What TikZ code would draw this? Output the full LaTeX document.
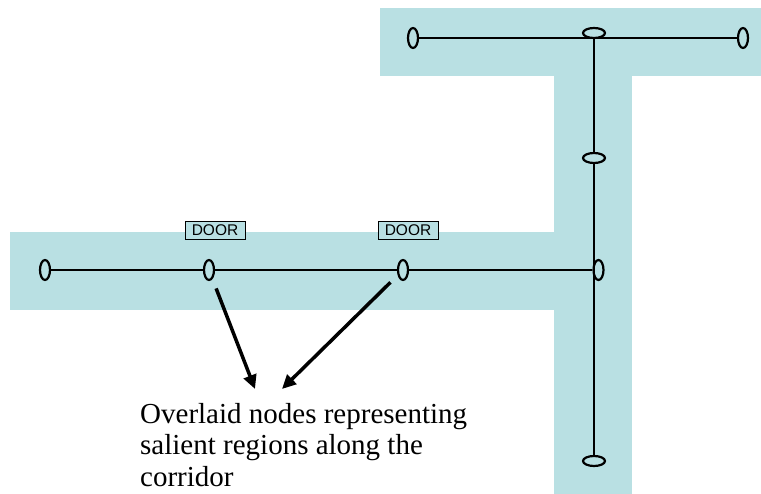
\documentclass[tikz,border=0pt]{standalone}
\usepackage{fontspec}
\setmainfont{Liberation Serif}
\newfontfamily\doorfont{Liberation Sans}
\usetikzlibrary{shapes.geometric,arrows.meta}
\definecolor{hall}{RGB}{185,224,227}
\begin{document}
\begin{tikzpicture}[x=1pt,y=-1pt,
    vnode/.style={draw,ellipse,line width=2.2pt,minimum width=10pt,minimum height=20pt,inner sep=0pt},
    hnode/.style={draw,ellipse,line width=2.2pt,minimum width=22pt,minimum height=10pt,inner sep=0pt},
    doorbox/.style={draw,line width=0.8pt,fill=hall,font=\doorfont\fontsize{15.5}{15.5}\selectfont,inner sep=0pt,minimum width=60pt,minimum height=18pt},
    edge/.style={line width=2pt},
    pointer/.style={line width=3.5pt,-{Triangle[length=14pt,width=13pt]}}]
    \useasboundingbox (0,0) rectangle (761,494);
    % corridors
    \fill [hall] (380,8) rectangle (761,76);
    \fill [hall] (554,75) rectangle (632,494);
    \fill [hall] (10,232) rectangle (555,310);

    % doors
    \node [doorbox] (door1) at (215,230) {DOOR};
    \node [doorbox] (door2) at (408,230) {DOOR};

    % nodes
    \node [vnode] (n1) at (45,270) {};
    \node [vnode] (n2) at (209,270) {};
    \node [vnode] (n3) at (403,270) {};
    \node [vnode] (n4) at (598.5,270) {};
    \node [hnode] (top) at (594,33) {};
    \node [hnode] (mid) at (594,158) {};
    \node [hnode] (bot) at (594,461) {};
    \node [vnode] (tl) at (413,38) {};
    \node [vnode] (tr) at (743,38) {};

    % edges
    \draw [edge] (n1) -- (n2) -- (n3) -- (n4);
    \draw [edge] (top) -- (mid) -- (bot);
    \draw [edge] (tl) -- (tr);

    % pointers to the text
    \coordinate (tipL) at (255,389);
    \coordinate (tipR) at (282,389);
    \draw [pointer,shorten <=10pt] (n2) -- (tipL);
    \draw [pointer,shorten <=10pt] (n3) -- (tipR);

    \node [anchor=north west,align=left,inner sep=0pt,font=\fontsize{29}{31.5}\selectfont] (note) at (140,403)
        {Overlaid nodes representing\\salient regions along the\\corridor};
\end{tikzpicture}
\end{document}
